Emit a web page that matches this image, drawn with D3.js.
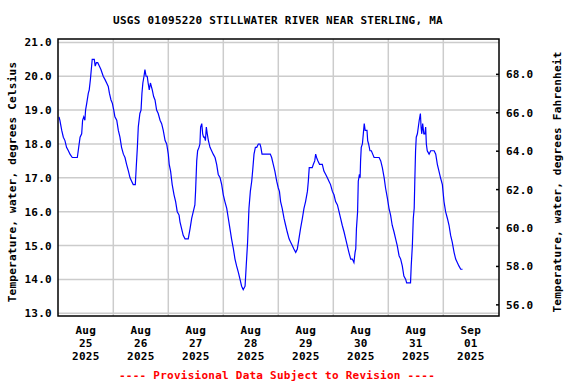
<!DOCTYPE html>
<html>
<head>
<meta charset="utf-8">
<script src="https://cdn.jsdelivr.net/npm/d3@7"></script>
<style>
  body { margin: 0; background: #fff; }
  text { font-family: "DejaVu Sans Mono", monospace; font-weight: bold; font-size: 11px; letter-spacing: 0.25px; }
</style>
</head>
<body>
<div id="chart"></div>
<script>
// hours after 2025-08-25 00:00 and water temperature (deg C)
var hours = [0.3,0.7,1.5,2.2,2.9,3.6,4.4,5.1,6.1,8.3,8.7,9.5,10.2,10.6,11.1,11.6,11.9,12.4,13.1,13.5,14.0,14.4,14.8,15.7,16.1,16.6,17.2,17.9,18.6,19.6,20.4,21.1,21.8,22.3,23.0,23.6,
  24.2,24.7,25.5,26.2,26.9,27.6,28.4,29.1,29.8,30.6,31.3,32.0,32.7,33.6,34.0,34.5,34.9,35.6,36.1,36.5,36.9,37.4,37.8,38.3,38.8,39.2,39.7,40.2,40.6,41.0,41.6,42.2,42.9,43.6,44.4,45.1,45.8,46.6,47.3,
  48.0,48.4,49.0,49.7,50.5,51.2,51.9,52.7,53.1,53.8,54.5,55.3,56.7,57.5,58.2,58.9,59.6,59.9,60.4,60.8,61.4,61.8,62.1,62.6,63.0,63.4,63.8,64.2,64.6,65.0,65.5,66.2,66.9,67.6,68.4,69.1,69.8,70.6,71.3,
  72.0,72.7,73.5,74.2,74.9,75.6,76.4,77.1,77.8,78.6,79.3,80.0,80.7,81.5,82.0,82.6,83.2,83.8,84.4,84.8,85.4,86.0,86.6,87.3,88.0,88.4,88.9,92.5,93.1,93.8,94.5,95.3,
  96.0,96.5,97.0,97.7,98.5,99.2,99.9,100.7,101.4,102.1,102.8,103.6,104.3,105.0,105.7,106.5,107.2,107.9,108.7,109.1,109.5,110.8,111.3,111.9,112.3,112.7,113.3,114.0,115.2,115.9,116.7,117.4,118.1,118.8,119.6,
  120.3,121.0,121.8,122.5,123.2,123.9,124.7,125.4,126.1,126.8,127.6,128.3,129.0,129.5,129.8,130.1,130.6,130.9,131.4,131.7,131.9,132.2,132.7,133.1,133.5,133.9,134.3,134.7,135.0,135.4,136.0,136.6,137.2,137.8,140.0,140.7,141.4,142.2,142.8,143.6,
  144.3,145.0,145.7,146.5,147.2,147.9,148.7,149.4,150.1,150.8,151.6,152.0,153.7,154.0,154.5,154.9,155.3,155.6,155.9,156.2,156.7,157.1,157.5,158.0,158.3,158.6,159.0,159.5,160.0,160.3,160.6,161.0,161.8,162.5,164.0,164.7,165.4,166.1,166.8,167.6,
  168.3,169.0,169.8,170.5,171.2,171.9,172.7,173.4,174.1,174.8,175.6,176.4];
var tempC = [18.8,18.7,18.4,18.2,18.1,17.9,17.8,17.7,17.6,17.6,17.8,18.2,18.3,18.7,18.8,18.7,19.0,19.2,19.5,19.6,19.9,20.2,20.5,20.5,20.3,20.4,20.4,20.3,20.2,20.0,19.9,19.8,19.7,19.5,19.3,19.2,
  19.0,18.8,18.7,18.4,18.2,17.9,17.7,17.6,17.4,17.2,17.0,16.9,16.8,16.8,17.3,17.9,18.5,18.9,19.0,19.5,19.8,20.0,20.2,20.0,20.0,19.8,19.6,19.8,19.7,19.6,19.4,19.3,19.0,18.9,18.7,18.6,18.4,18.1,18.0,
  17.7,17.4,17.2,16.8,16.5,16.3,16.0,15.9,15.7,15.5,15.3,15.2,15.2,15.5,15.8,16.0,16.2,16.6,17.5,17.8,17.9,18.0,18.5,18.6,18.3,18.2,18.2,18.1,18.5,18.3,18.1,17.9,17.8,17.7,17.6,17.4,17.1,17.0,16.8,
  16.5,16.3,16.1,15.8,15.5,15.2,14.9,14.6,14.4,14.2,14.0,13.8,13.7,13.8,14.4,15.1,16.1,16.6,16.9,17.2,17.7,17.9,17.9,18.0,18.0,17.9,17.7,17.7,17.6,17.4,17.2,16.9,
  16.7,16.6,16.3,16.1,15.8,15.6,15.4,15.2,15.1,15.0,14.9,14.8,14.9,15.2,15.5,15.8,16.1,16.3,16.6,16.9,17.3,17.3,17.4,17.5,17.7,17.6,17.5,17.4,17.4,17.2,17.1,17.0,16.9,16.8,16.6,
  16.5,16.3,16.2,16.0,15.8,15.6,15.4,15.2,15.0,14.8,14.6,14.6,14.5,14.8,14.9,15.5,16.0,16.9,17.1,17.0,17.5,17.9,18.0,18.3,18.6,18.4,18.4,18.4,18.1,18.0,17.8,17.8,17.7,17.6,17.6,17.5,17.3,17.0,16.7,16.4,
  16.1,15.9,15.6,15.4,15.2,15.0,14.7,14.6,14.4,14.1,14.0,13.9,13.9,14.4,15.0,15.8,16.1,17.0,17.8,18.2,18.3,18.5,18.7,18.9,18.5,18.3,18.6,18.3,18.3,18.5,18.0,17.8,17.7,17.8,17.8,17.7,17.4,17.2,17.0,16.8,
  16.3,16.0,15.8,15.6,15.3,15.1,14.8,14.6,14.5,14.4,14.3,14.3];

var celsiusTicks = [13, 14, 15, 16, 17, 18, 19, 20, 21];
var fahrenheitTicks = [56, 58, 60, 62, 64, 66, 68];
var dayLabels = ["2025-08-25", "2025-08-26", "2025-08-27", "2025-08-28", "2025-08-29", "2025-08-30", "2025-08-31", "2025-09-01"];

var title = "USGS 01095220 STILLWATER RIVER NEAR STERLING, MA";
var leftLabel = "Temperature, water, degrees Celsius";
var rightLabel = "Temperature, water, degrees Fahrenheit";
var footer = "---- Provisional Data Subject to Revision ----";

var W = 576, H = 384;
var margin = { top: 39, left: 58, right: 77, bottom: 68 };
var x0 = margin.left, x1 = W - margin.right, y0 = margin.top, y1 = H - margin.bottom;

var start = new Date(2025, 7, 25);
var data = hours.map(function(h, i) { return { t: new Date(start.getTime() + h * 3600e3), v: tempC[i] }; });

var x = d3.scaleTime().domain([start, new Date(2025, 8, 2)]).range([x0 + 0.3, x1 - 0.7]);
var y = d3.scaleLinear().domain([12.92, 21.1]).range([y1, y0]);
var yF = d3.scaleLinear().domain([55.42, 69.84]).range([y1, y0]);

var svg = d3.select("#chart").append("svg")
  .attr("width", W).attr("height", H)
  .style("background", "#fff");

// grid
var grid = svg.append("g").attr("stroke", "#cccccc").attr("stroke-width", 1.5);
grid.selectAll(".hg").data(celsiusTicks).enter().append("line")
  .attr("x1", x0).attr("x2", x1)
  .attr("y1", function(d) { return y(d); }).attr("y2", function(d) { return y(d); });
var midnights = d3.timeDay.range(new Date(2025, 7, 26), new Date(2025, 8, 2));
grid.selectAll(".vg").data(midnights).enter().append("line")
  .attr("y1", y0).attr("y2", y1)
  .attr("x1", function(d) { return x(d); }).attr("x2", function(d) { return x(d); });

// series
var line = d3.line().x(function(d) { return x(d.t); }).y(function(d) { return y(d.v); });
svg.append("path").datum(data)
  .attr("d", line)
  .attr("fill", "none").attr("stroke", "#0000ff").attr("stroke-width", 1.2);

// frame
svg.append("rect").attr("x", x0).attr("y", y0).attr("width", x1 - x0).attr("height", y1 - y0)
  .attr("fill", "none").attr("stroke", "#000").attr("stroke-width", 1.5);

// left axis labels
svg.selectAll(".cl").data(celsiusTicks).enter().append("text")
  .attr("x", x0 - 6).attr("y", function(d) { return y(d) + 4; })
  .attr("text-anchor", "end")
  .text(function(d) { return d.toFixed(1); });

// right axis ticks + labels
svg.selectAll(".ft").data(fahrenheitTicks).enter().append("line")
  .attr("x1", x1 - 3).attr("x2", x1)
  .attr("y1", function(d) { return yF(d); }).attr("y2", function(d) { return yF(d); })
  .attr("stroke", "#000").attr("stroke-width", 1.5);
svg.selectAll(".fl").data(fahrenheitTicks).enter().append("text")
  .attr("x", x1 + 7).attr("y", function(d) { return yF(d) + 4; })
  .text(function(d) { return d.toFixed(1); });

// x labels at noon
var parse = d3.timeParse("%Y-%m-%d");
var fmt = [d3.timeFormat("%b"), d3.timeFormat("%d"), d3.timeFormat("%Y")];
dayLabels.forEach(function(s) {
  var d = d3.timeHour.offset(parse(s), 12);
  fmt.forEach(function(f, i) {
    svg.append("text")
      .attr("x", x(d)).attr("y", 334 + i * 13)
      .attr("text-anchor", "middle")
      .text(f(d));
  });
});

svg.append("text").attr("x", 278).attr("y", 24).attr("text-anchor", "middle").text(title);

svg.append("text")
  .attr("transform", "translate(16,182) rotate(-90)")
  .attr("text-anchor", "middle").text(leftLabel);
svg.append("text")
  .attr("transform", "translate(561,182) rotate(-90)")
  .attr("text-anchor", "middle").text(rightLabel);

svg.append("text").attr("x", 277).attr("y", 379).attr("text-anchor", "middle")
  .attr("fill", "#ff0000").text(footer);
</script>
</body>
</html>
